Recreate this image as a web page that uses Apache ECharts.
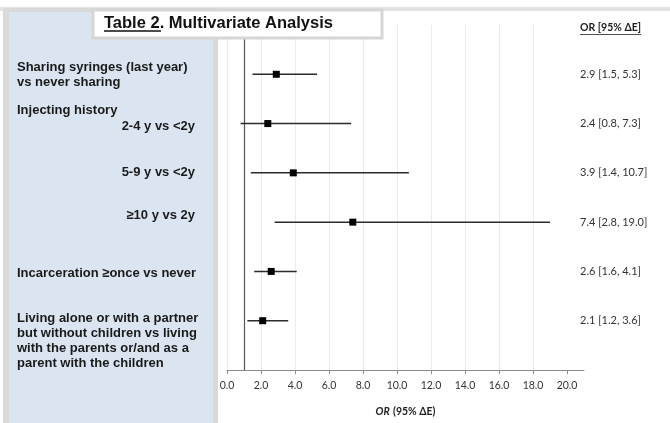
<!DOCTYPE html>
<html>
<head>
<meta charset="utf-8">
<script src="https://cdn.jsdelivr.net/npm/echarts@6/dist/echarts.min.js"></script>
<style>
  html, body { margin: 0; padding: 0; background: #fff; }
  #chart { width: 670px; height: 423px; }
</style>
</head>
<body>
<div id="chart"></div>
<script>
// rows of the forest plot, top to bottom
var rowIndex = [1, 2, 3, 4, 5, 6];
var oddsRatio = [2.9, 2.4, 3.9, 7.4, 2.6, 2.1];
var ciLow = [1.5, 0.8, 1.4, 2.8, 1.6, 1.2];
var ciHigh = [5.3, 7.3, 10.7, 19.0, 4.1, 3.6];
var rowLabels = [
    ["Sharing syringes (last year)", "vs never sharing"],
    ["2-4 y vs <2y"],
    ["5-9 y vs <2y"],
    ["\u226510 y vs 2y"],
    ["Incarceration \u2265once vs never"],
    ["Living alone or with a partner", "but without children vs living", "with the parents or/and as a", "parent with the children"]
];
var groupHeading = "Injecting history";
var xTicks = [0, 2, 4, 6, 8, 10, 12, 14, 16, 18, 20];
var refValue = 1;

var chart = echarts.init(document.getElementById("chart"));

var seriesData = rowIndex.map(function (r, i) {
    return [oddsRatio[i], ciLow[i], ciHigh[i], r];
});

var option = {
    backgroundColor: "#fff",
    animation: false,
    grid: { left: 227, right: 86, top: 25, bottom: 49 },
    xAxis: {
        type: "value",
        position: "bottom",
        min: 0,
        max: 21,
        interval: 2,
        name: "{i|OR} {b|(95% \u0394E)}",
        nameLocation: "middle",
        nameGap: 36,
        nameTextStyle: {
            rich: {
                i: { fontFamily: "Lato", fontWeight: "bold", fontStyle: "italic", fontSize: 10.5, color: "#222" },
                b: { fontFamily: "Lato", fontWeight: "bold", fontSize: 10.5, color: "#222" }
            }
        },
        axisLine: { show: true, onZero: false, lineStyle: { color: "#8c8c8c", width: 1 } },
        axisTick: { show: true, length: 4, customValues: xTicks, lineStyle: { color: "#8c8c8c" } },
        axisLabel: {
            customValues: xTicks,
            margin: 10,
            fontFamily: "Lato",
            fontSize: 10.5,
            color: "#333",
            formatter: function (v) { return v.toFixed(1); }
        },
        splitLine: { show: true, showMaxLine: false, lineStyle: { color: "#ececec", width: 1 } }
    },
    yAxis: {
        type: "value",
        min: 0,
        max: 7,
        inverse: true,
        show: false,
        splitLine: { show: false }
    },
    series: [{
        type: "custom",
        data: seriesData,
        encode: { x: [0, 1, 2], y: 3 },
        z: 5,
        renderItem: function (params, api) {
            var y = api.value(3);
            var lo = api.coord([api.value(1), y]);
            var hi = api.coord([api.value(2), y]);
            var pt = api.coord([api.value(0), y]);
            return {
                type: "group",
                children: [
                    { type: "line", shape: { x1: lo[0], y1: lo[1], x2: hi[0], y2: hi[1] },
                      style: { stroke: "#2b2b2b", lineWidth: 1.5 } },
                    { type: "rect", shape: { x: pt[0] - 3.5, y: pt[1] - 3.5, width: 7, height: 7 },
                      style: { fill: "#000" } }
                ]
            };
        },
        markLine: {
            silent: true,
            symbol: "none",
            label: { show: false },
            lineStyle: { color: "#555", width: 1.2, type: "solid" },
            data: [{ xAxis: refValue }]
        }
    }]
};

chart.setOption(option);

// side panels: left labels and right OR column, placed on the rows' pixel positions
var labelFont = "bold 13px 'Liberation Sans', Arial, sans-serif";
var lineOffset = [-7, 3, 0, -7, 2, -2];
var rightAlignRows = [false, true, true, true, false, false];
var graphics = [
    { type: "rect", z: -10, shape: { x: 0, y: 7, width: 670, height: 4 }, style: { fill: "#e3e3e3" } },
    { type: "rect", z: -10, shape: { x: 3, y: 8, width: 215, height: 415 }, style: { fill: "#d9d9d9" } },
    { type: "rect", z: -9, shape: { x: 9, y: 12, width: 204, height: 411 }, style: { fill: "#dbe5f1" } },
    { type: "rect", z: 100, shape: { x: 93, y: 10, width: 289, height: 28 },
      style: { fill: "#fff", stroke: "#d6d6d6", lineWidth: 3 } },
    { type: "text", z: 101, x: 104, y: 23,
      style: { text: "Table 2. Multivariate Analysis", font: "bold 16.5px 'Liberation Sans', Arial, sans-serif",
               fill: "#111", verticalAlign: "middle" } },
    { type: "line", z: 101, shape: { x1: 104, y1: 31, x2: 161, y2: 31 }, style: { stroke: "#111", lineWidth: 1.3 } },
    { type: "text", x: 580, y: 28,
      style: { text: "OR [95% \u0394E]", font: "bold 10.5px Lato, sans-serif", fill: "#222", verticalAlign: "middle" } },
    { type: "line", shape: { x1: 580, y1: 34.5, x2: 641, y2: 34.5 }, style: { stroke: "#222", lineWidth: 0.8 } }
];

rowIndex.forEach(function (r, i) {
    var py = chart.convertToPixel({ gridIndex: 0 }, [0, r])[1];
    rowLabels[i].forEach(function (txt, j) {
        graphics.push({
            type: "text",
            x: rightAlignRows[i] ? 195 : 17,
            y: py + lineOffset[i] + 15 * j,
            style: { text: txt, font: labelFont, fill: "#1a1a1a",
                     align: rightAlignRows[i] ? "right" : "left", verticalAlign: "middle" }
        });
    });
    if (i === 1) {
        graphics.push({
            type: "text", x: 17, y: py - 13,
            style: { text: groupHeading, font: labelFont, fill: "#1a1a1a", verticalAlign: "middle" }
        });
    }
    graphics.push({
        type: "text", x: 580, y: py,
        style: { text: oddsRatio[i].toFixed(1) + " [" + ciLow[i].toFixed(1) + ", " + ciHigh[i].toFixed(1) + "]",
                 font: "11px Lato, sans-serif", fill: "#333", verticalAlign: "middle" }
    });
});

chart.setOption({ graphic: graphics });
window.addEventListener("resize", function () { chart.resize(); });
</script>
</body>
</html>
